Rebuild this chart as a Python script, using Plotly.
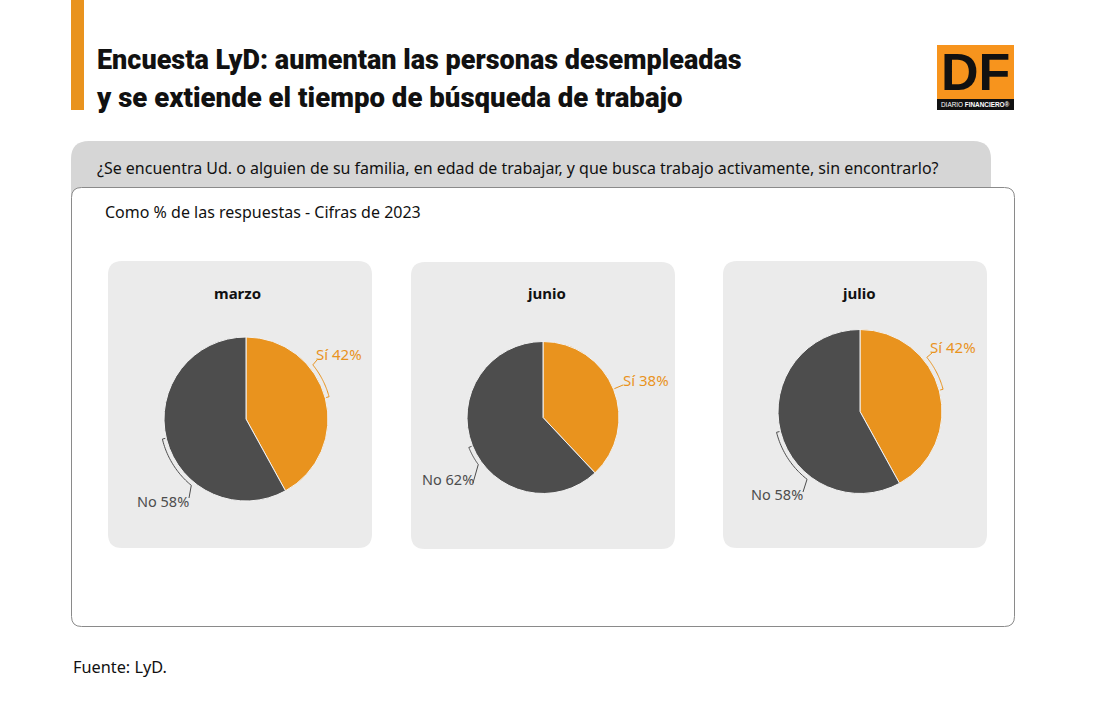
import numpy as np
import plotly.graph_objects as go

W, H = 1095, 720
ORANGE = "#E9931E"
DARK = "#4D4D4D"
FONT = "Noto Sans"

months = ["marzo", "junio", "julio"]
answers = ["Sí", "No"]
si_values = [42, 38, 42]
no_values = [58, 62, 58]

title_lines = ["Encuesta LyD: aumentan las personas desempleadas",
               "y se extiende el tiempo de búsqueda de trabajo"]
question = "¿Se encuentra Ud. o alguien de su familia, en edad de trabajar, y que busca trabajo activamente, sin encontrarlo?"
subtitle = "Como % de las respuestas - Cifras de 2023"
source = "Fuente: LyD."

# pixel layout of each panel: card box, pie centre and radius
cards = [(108, 261, 372, 548), (411, 262, 675, 549), (723, 261, 987, 548)]
centers = [(246, 419, 82), (543, 417.5, 76), (860, 411.5, 82)]
month_x = [237.5, 546, 858.5]
si_labels = [(339, 354), (645.5, 380), (953, 347)]
no_labels = [(163, 501), (448, 479), (777, 494)]


def px(x):
    return x / W


def py(y):
    return 1 - y / H


def rrect(x0, y0, x1, y1, r, fill, line=None, top_only=False):
    b = 0 if top_only else r
    path = (f"M {px(x0 + r)} {py(y0)} L {px(x1 - r)} {py(y0)} "
            f"Q {px(x1)} {py(y0)} {px(x1)} {py(y0 + r)} "
            f"L {px(x1)} {py(y1 - b)} Q {px(x1)} {py(y1)} {px(x1 - b)} {py(y1)} "
            f"L {px(x0 + b)} {py(y1)} Q {px(x0)} {py(y1)} {px(x0)} {py(y1 - b)} "
            f"L {px(x0)} {py(y0 + r)} Q {px(x0)} {py(y0)} {px(x0 + r)} {py(y0)} Z")
    return dict(type="path", xref="paper", yref="paper", path=path, fillcolor=fill,
                line=dict(color=line or fill, width=1 if line else 0), layer="below")


def bracket(cx, cy, r, a0, a1, end, color):
    # thin arc around a slice, with a leader going to its label
    ang = np.radians(np.linspace(a0, a1, 30))
    xs = cx + (r + 4) * np.sin(ang)
    ys = cy - (r + 4) * np.cos(ang)
    pts = [(cx + (r + 1) * np.sin(ang[0]), cy - (r + 1) * np.cos(ang[0]))]
    if a0 != a1:
        pts += list(zip(xs, ys))
    pts.append(end)
    path = "M " + " L ".join(f"{px(a)} {py(b)}" for a, b in pts)
    return dict(type="path", xref="paper", yref="paper", path=path,
                line=dict(color=color, width=1), layer="above")


shapes = [
    dict(type="rect", xref="paper", yref="paper", x0=px(71), x1=px(84), y0=py(110), y1=py(0),
         fillcolor=ORANGE, line=dict(width=0)),
    rrect(71, 141, 991, 200, 18, "#D6D6D6", top_only=True),
    rrect(71.5, 187.5, 1014.5, 626.5, 10, "#FFFFFF", line="#8A8A8A"),
    dict(type="rect", xref="paper", yref="paper", x0=px(937), x1=px(1014), y0=py(110), y1=py(45),
         fillcolor="#F7941D", line=dict(width=0)),
    dict(type="rect", xref="paper", yref="paper", x0=px(937), x1=px(1014), y0=py(110), y1=py(99),
         fillcolor="#111111", line=dict(width=0)),
]
for c in cards:
    shapes.append(rrect(c[0], c[1], c[2], c[3], 14, "#EBEBEB"))

# (start, end) angles of the brackets, clockwise from 12 o'clock
si_arcs = [(75, 51), (68, 68), (75, 51)]
no_arcs = [(256.5, 219.5), (248, 234), (256, 218)]
si_ends = [(317, 360), (623, 385), (932, 353)]
no_ends = [(189, 498), (473, 483), (803, 492)]
for i in range(3):
    cx, cy, r = centers[i]
    shapes.append(bracket(cx, cy, r, si_arcs[i][0], si_arcs[i][1], si_ends[i], ORANGE))
    shapes.append(bracket(cx, cy, r, no_arcs[i][0], no_arcs[i][1], no_ends[i], DARK))

fig = go.Figure()
for i, m in enumerate(months):
    cx, cy, r = centers[i]
    fig.add_trace(go.Pie(
        labels=answers,
        values=[si_values[i], no_values[i]],
        sort=False,
        direction="clockwise",
        rotation=0,
        textinfo="none",
        hoverinfo="label+percent",
        showlegend=False,
        marker=dict(colors=[ORANGE, DARK], line=dict(color="#F2F2F2", width=1)),
        domain=dict(x=[px(cx - r), px(cx + r)], y=[py(cy + r), py(cy - r)]),
    ))


def note(text, x, y, size, color="#111111", anchor="left", family=FONT, weight=None, **kw):
    f = dict(family=family, size=size, color=color)
    if weight:
        f["weight"] = weight
    return dict(text=text, x=px(x), y=py(y), xref="paper", yref="paper", showarrow=False,
                xanchor=anchor, yanchor="middle", align=anchor, font=f, **kw)


notes = [
    note(title_lines[0], 94.5, 60, 27, family="Roboto", weight=900),
    note(title_lines[1], 93.5, 98, 27.6, family="Roboto", weight=900),
    note(question, 94.5, 168, 15.97),
    note(subtitle, 102.5, 212, 16),
    note(source, 70.5, 667, 16.3),
    note("<b>DF</b>", 975.5, 72.5, 52, anchor="center", family="Liberation Sans", height=50),
    note("DIARIO <b>FINANCIERO®</b>", 975.5, 104.5, 6.4, color="#FFFFFF", anchor="center", family="Liberation Sans"),
]
for i, m in enumerate(months):
    notes.append(note("<b>" + m + "</b>", month_x[i], 293, 15, anchor="center"))
    notes.append(note(f"{answers[0]} {si_values[i]}%", si_labels[i][0], si_labels[i][1], 15, color=ORANGE, anchor="center"))
    notes.append(note(f"{answers[1]} {no_values[i]}%", no_labels[i][0], no_labels[i][1], 14.5, color=DARK, anchor="center"))

fig.update_layout(
    width=W, height=H,
    margin=dict(l=0, r=0, t=0, b=0),
    paper_bgcolor="white",
    shapes=shapes,
    annotations=notes,
)

fig.write_html("out.html", config={"displayModeBar": False},
               post_script="document.body.style.margin='0';")
